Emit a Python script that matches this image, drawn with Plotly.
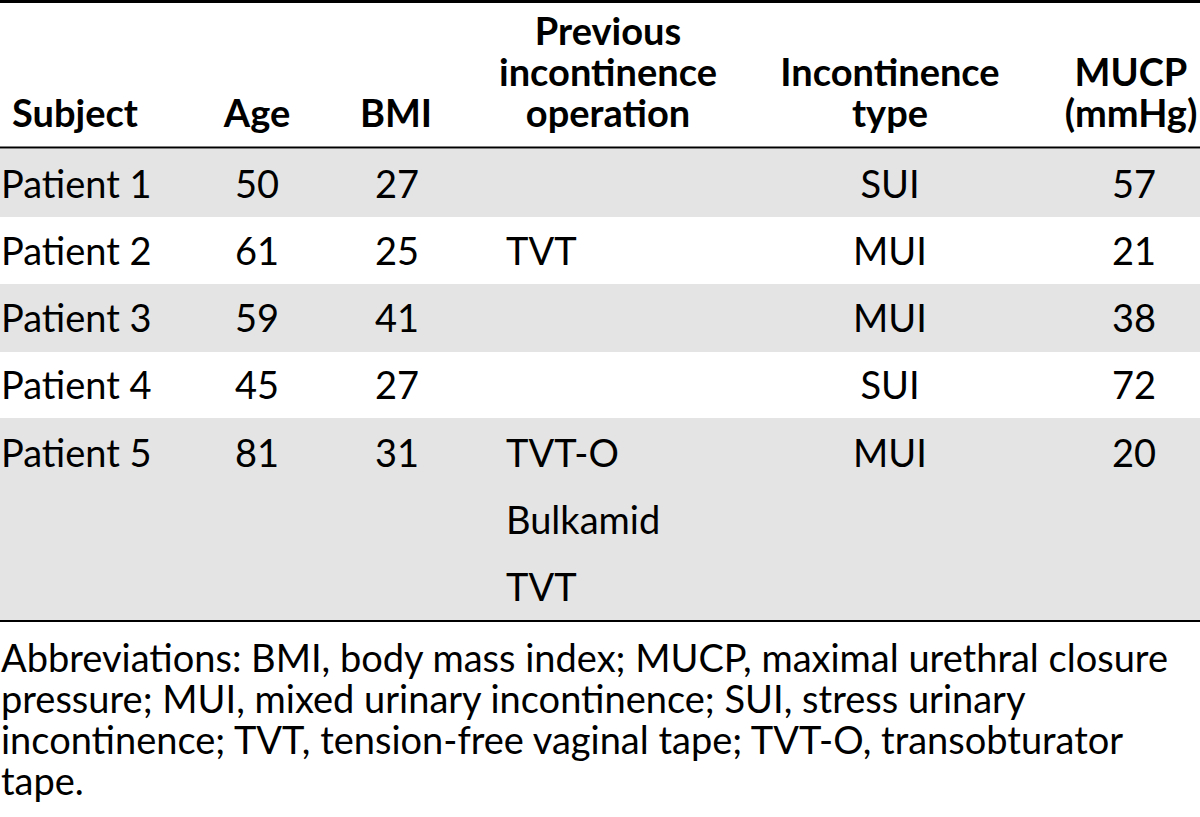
import plotly.graph_objects as go

# ---- data ----
header_lines = [
    ["Subject"],
    ["Age"],
    ["BMI"],
    ["Previous", "incontinence", "operation"],
    ["Incontinence", "type"],
    ["MUCP", "(mmHg)"],
]
subjects = ["Patient 1", "Patient 2", "Patient 3", "Patient 4", "Patient 5"]
ages = [50, 61, 59, 45, 81]
bmis = [27, 25, 41, 27, 31]
prev_ops = [[], ["TVT"], [], [], ["TVT-O", "Bulkamid", "TVT"]]
inc_types = ["SUI", "MUI", "MUI", "SUI", "MUI"]
mucp = [57, 21, 38, 72, 20]
footnote = [
    "Abbreviations: BMI, body mass index; MUCP, maximal urethral closure",
    "pressure; MUI, mixed urinary incontinence; SUI, stress urinary",
    "incontinence; TVT, tension-free vaginal tape; TVT-O, transobturator",
    "tape.",
]

# ---- layout constants ----
W, H = 1200, 817
FONT = "Lato"
FS = 38
OFF = 0.35 * FS - 5
col_x = [1, 257, 397, 506, 890, 1134]          # data anchor x per column
col_pos = ["middle right", "middle center", "middle center",
           "middle right", "middle center", "middle center"]
head_x = [75, 257, 396, 608, 890, 1131]
head_base = [44, 85, 126]
row_base = [197, 264, 331, 398, 466]
sub_line_gap = 67
foot_base = [671, 712, 753, 794]
gray_rows = [(149, 217), (284, 352), (418, 620)]

fig = go.Figure()

# header
hx, hy, ht = [], [], []
for ci, lines in enumerate(header_lines):
    n = len(lines)
    for li, t in enumerate(lines):
        hx.append(head_x[ci])
        hy.append(head_base[3 - n + li] - OFF)
        ht.append("<b>" + t + "</b>")
fig.add_trace(go.Scatter(x=hx, y=hy, text=ht, mode="text", textposition="middle center",
                         textfont=dict(family=FONT, size=FS, color="black"),
                         hoverinfo="skip", showlegend=False, cliponaxis=False))

# body
cols = [subjects, [str(a) for a in ages], [str(b) for b in bmis], None,
        inc_types, [str(m) for m in mucp]]
for ci, vals in enumerate(cols):
    xs, ys, ts = [], [], []
    if vals is None:
        for ri, ops in enumerate(prev_ops):
            for k, op in enumerate(ops):
                xs.append(col_x[ci]); ys.append(row_base[ri] + k * sub_line_gap - OFF); ts.append(op)
    else:
        for ri, v in enumerate(vals):
            xs.append(col_x[ci]); ys.append(row_base[ri] - OFF); ts.append(v)
    fig.add_trace(go.Scatter(x=xs, y=ys, text=ts, mode="text", textposition=col_pos[ci],
                             textfont=dict(family=FONT, size=FS, color="black"),
                             hoverinfo="skip", showlegend=False, cliponaxis=False))

# footnote
fig.add_trace(go.Scatter(x=[1] * len(footnote), y=[b - OFF for b in foot_base], text=footnote,
                         mode="text", textposition="middle right",
                         textfont=dict(family=FONT, size=FS, color="black"),
                         hoverinfo="skip", showlegend=False, cliponaxis=False))

shapes = []
for (y0, y1) in gray_rows:
    shapes.append(dict(type="rect", xref="x", yref="y", x0=0, x1=W, y0=y0, y1=y1,
                       fillcolor="#e4e4e4", line=dict(width=0), layer="below"))
for y, w in [(1.5, 3), (147.5, 2), (621, 2)]:
    shapes.append(dict(type="line", xref="x", yref="y", x0=0, x1=W, y0=y, y1=y,
                       line=dict(color="black", width=w)))

fig.update_layout(
    width=W, height=H, margin=dict(l=0, r=0, t=0, b=0),
    paper_bgcolor="white", plot_bgcolor="white", shapes=shapes,
    xaxis=dict(range=[0, W], visible=False, fixedrange=True),
    yaxis=dict(range=[H, 0], visible=False, fixedrange=True),
)
fig.write_html("out.html", config={"displayModeBar": False},
               post_script="document.body.style.margin='0';document.body.style.overflow='hidden';")
